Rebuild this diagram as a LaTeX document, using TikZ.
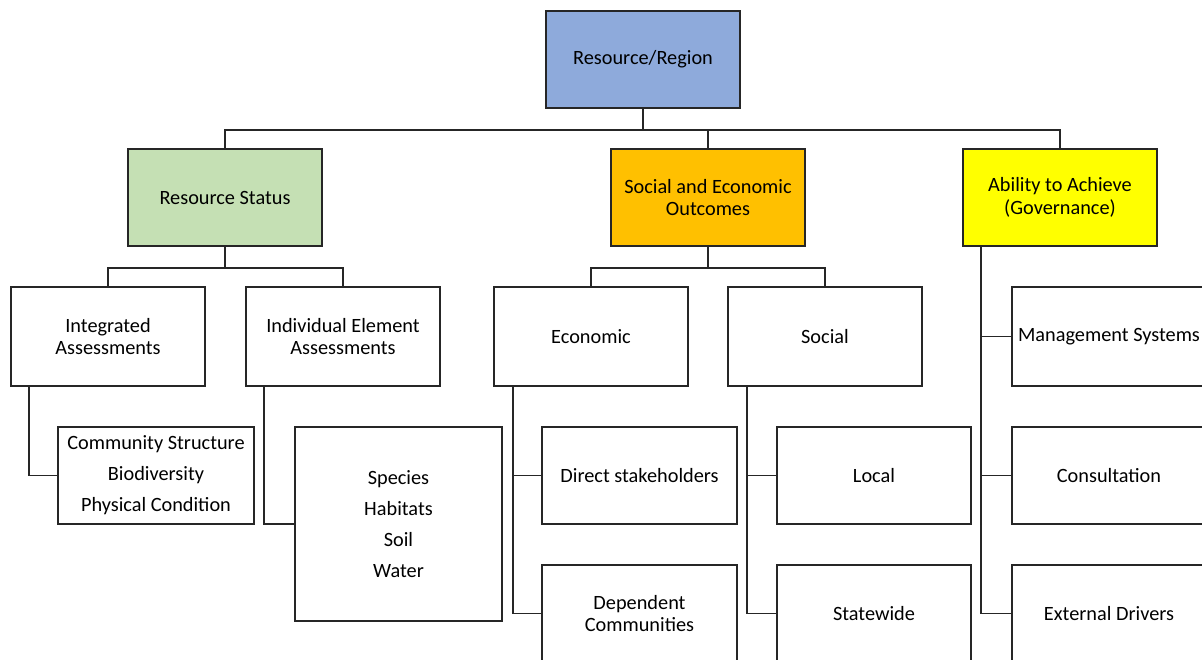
\documentclass[tikz,border=0pt]{standalone}
\usepackage{fontspec}
\setmainfont{Carlito}
\definecolor{rootblue}{HTML}{8EAADB}
\definecolor{rsgreen}{HTML}{C5E0B4}
\definecolor{seorange}{HTML}{FFC000}
\definecolor{abyellow}{HTML}{FFFF00}
\definecolor{edge}{HTML}{262626}
\begin{document}
\begin{tikzpicture}[x=1pt,y=-1pt,
  box/.style={draw=edge, line width=1.6pt, fill=white, rectangle, inner sep=0pt,
    minimum width=194pt, minimum height=97pt, align=center,
    font=\fontsize{20.3}{22.5}\selectfont},
  tall/.style={minimum height=99pt},
  list/.style={font=\fontsize{20.3}{31}\selectfont},
  conn/.style={draw=edge, line width=1.6pt}]
\useasboundingbox (0,0) rectangle (1202,659);
\clip (0,0) rectangle (1202,659);
\fill[white] (0,0) rectangle (1202,659);
% nodes
\node[box, fill=rootblue] (root) at (643,59.5) {Resource/Region};
\node[box, fill=rsgreen] (rs) at (225,197.5) {Resource Status};
\node[box, fill=seorange] (seo) at (708,197.5) {Social and Economic\\Outcomes};
\node[box, fill=abyellow] (ab) at (1060,197.5) {Ability to Achieve\\(Governance)};
\node[box, tall] (ia) at (108,336.5) {Integrated\\Assessments};
\node[box, tall] (ie) at (343,336.5) {Individual Element\\Assessments};
\node[box, tall] (ec) at (591,336.5) {Economic};
\node[box, tall] (so) at (825,336.5) {Social};
\node[box, tall] (ms) at (1109,336.5) {Management Systems};
\node[box, list, minimum width=196pt] (cs) at (156,475.5) {Community Structure\\Biodiversity\\Physical Condition};
\node[box, list, minimum width=207pt, minimum height=194pt] (sp) at (398.5,524) {Species\\Habitats\\Soil\\Water};
\node[box, minimum width=195pt] (ds) at (639.5,475.5) {Direct stakeholders};
\node[box, minimum width=195pt] (dc) at (639.5,613.5) {Dependent\\Communities};
\node[box] (lo) at (874,475.5) {Local};
\node[box] (sw) at (874,613.5) {Statewide};
\node[box] (co) at (1109,475.5) {Consultation};
\node[box] (ed) at (1109,613.5) {External Drivers};
% connectors
\draw[conn] (root.south) -- ++(0,21) -| (rs.north);
\draw[conn] (root.south) -- ++(0,21) -| (seo.north);
\draw[conn] (root.south) -- ++(0,21) -| (ab.north);
\draw[conn] (rs.south) -- ++(0,21) -| (ia.north);
\draw[conn] (rs.south) -- ++(0,21) -| (ie.north);
\draw[conn] (seo.south) -- ++(0,21) -| (ec.north);
\draw[conn] (seo.south) -- ++(0,21) -| (so.north);
\draw[conn] ([xshift=19pt]ia.south west) |- (cs.west);
\draw[conn] ([xshift=19pt]ie.south west) |- (sp.west);
\draw[conn] ([xshift=20pt]ec.south west) |- (ds.west);
\draw[conn] ([xshift=20pt]ec.south west) |- (dc.west);
\draw[conn] ([xshift=20pt]so.south west) |- (lo.west);
\draw[conn] ([xshift=20pt]so.south west) |- (sw.west);
\draw[conn] ([xshift=19pt]ab.south west) |- (ms.west);
\draw[conn] ([xshift=19pt]ab.south west) |- (co.west);
\draw[conn] ([xshift=19pt]ab.south west) |- (ed.west);
\end{tikzpicture}
\end{document}
